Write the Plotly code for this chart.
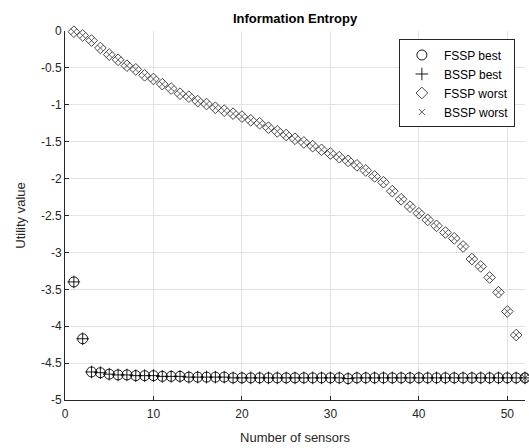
import plotly.graph_objects as go

sensors = list(range(1, 53))

fssp_best = [-3.40, -4.17, -4.62, -4.63, -4.65, -4.66, -4.66, -4.67, -4.67, -4.67,
             -4.68, -4.68, -4.68, -4.69, -4.69, -4.69, -4.69, -4.69, -4.70, -4.70,
             -4.70, -4.70, -4.70, -4.70, -4.70, -4.70, -4.70, -4.70, -4.70, -4.70,
             -4.70, -4.71, -4.70, -4.70, -4.70, -4.70, -4.70, -4.70, -4.70, -4.70,
             -4.70, -4.70, -4.70, -4.70, -4.70, -4.70, -4.70, -4.70, -4.70, -4.70,
             -4.70, -4.70]
bssp_best = list(fssp_best)

fssp_worst = [-0.01, -0.06, -0.13, -0.23, -0.32, -0.39, -0.47, -0.52, -0.60, -0.65,
              -0.72, -0.78, -0.85, -0.89, -0.95, -0.99, -1.04, -1.08, -1.12, -1.16,
              -1.21, -1.25, -1.31, -1.36, -1.41, -1.46, -1.51, -1.56, -1.61, -1.66,
              -1.71, -1.76, -1.82, -1.89, -1.97, -2.05, -2.17, -2.28, -2.38, -2.47,
              -2.56, -2.64, -2.73, -2.81, -2.92, -3.09, -3.19, -3.34, -3.54, -3.80,
              -4.12, -4.70]
bssp_worst = list(fssp_worst)

y_ticks = [0, -0.5, -1, -1.5, -2, -2.5, -3, -3.5, -4, -4.5, -5]
y_tick_text = ["0", "-0.5", "-1", "-1.5", "-2", "-2.5", "-3", "-3.5", "-4", "-4.5", "-5"]
x_ticks = [0, 10, 20, 30, 40, 50]

fig = go.Figure()
common = dict(mode="markers", cliponaxis=False)
fig.add_trace(go.Scatter(x=sensors, y=fssp_best, name="FSSP best",
                         marker=dict(symbol="circle-open", size=10, color="black",
                                     line=dict(width=0.9, color="black")), **common))
fig.add_trace(go.Scatter(x=sensors, y=bssp_best, name="BSSP best",
                         marker=dict(symbol="cross-thin-open", size=9, color="black",
                                     line=dict(width=0.9, color="black")), **common))
fig.add_trace(go.Scatter(x=sensors, y=fssp_worst, name="FSSP worst",
                         marker=dict(symbol="diamond-open", size=9, color="#333333",
                                     line=dict(width=0.9, color="#333333")), **common))
fig.add_trace(go.Scatter(x=sensors, y=bssp_worst, name="BSSP worst",
                         marker=dict(symbol="x-thin-open", size=6, color="#333333",
                                     line=dict(width=0.8, color="#333333")), **common))

axis_common = dict(showgrid=True, gridcolor="#e3e3e3", gridwidth=1, zeroline=False,
                   showline=True, linecolor="#262626", linewidth=1,
                   ticks="inside", ticklen=4, tickcolor="#262626",
                   tickfont=dict(family="Liberation Sans, Arial", size=12, color="#262626"),
                   mirror=False)

fig.update_layout(
    width=529, height=448,
    margin=dict(l=65, r=4, t=31, b=48, autoexpand=False),
    paper_bgcolor="white", plot_bgcolor="white",
    font=dict(family="Liberation Sans, Arial", color="#262626"),
    title=dict(text="<b>Information Entropy</b>", x=0.5, xanchor="center",
               xref="paper", y=1, yref="paper", yanchor="bottom", pad=dict(b=8),
               font=dict(size=13, color="black")),
    xaxis=dict(range=[0, 52], tickvals=x_ticks, ticklabelstandoff=3,
               title=dict(text="Number of sensors", standoff=12,
                          font=dict(size=13, color="#262626")),
               **axis_common),
    yaxis=dict(range=[-5, 0], tickvals=y_ticks, ticktext=y_tick_text,
               title=dict(text="Utility value", standoff=12,
                          font=dict(size=13, color="#262626")),
               **axis_common),
    legend=dict(x=0.978, y=0.977, xanchor="right", yanchor="top",
                bgcolor="white", bordercolor="#262626", borderwidth=1,
                font=dict(size=12, color="black"), itemwidth=34,
                tracegroupgap=0),
)

fig.write_html("out.html", config={"displayModeBar": False},
               post_script="document.body.style.margin='0';document.body.style.overflow='hidden';")
